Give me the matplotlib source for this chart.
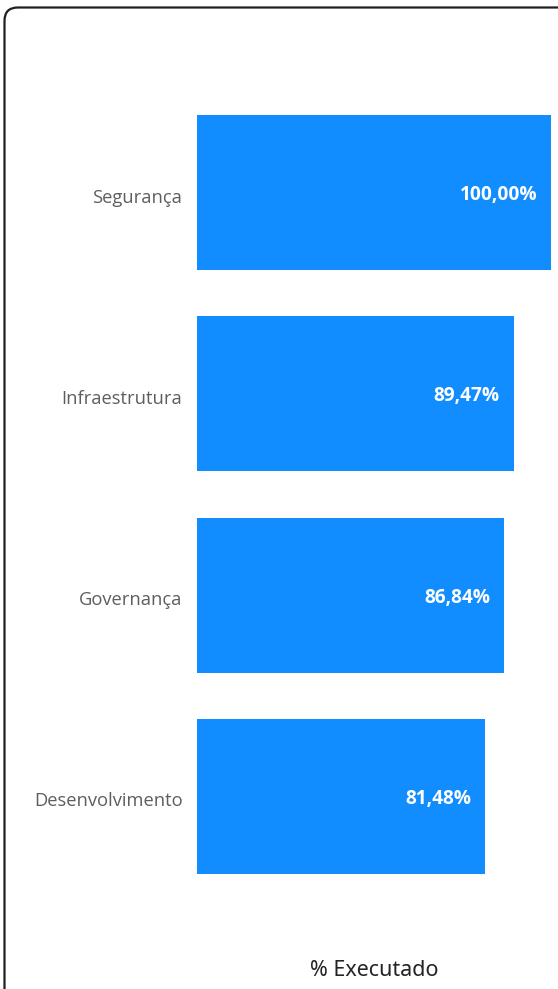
import matplotlib
matplotlib.use("Agg")
import matplotlib.pyplot as plt
import matplotlib.transforms as mtransforms
from matplotlib.patches import FancyBboxPatch

categories = ["Segurança", "Infraestrutura", "Governança", "Desenvolvimento"]
values = [100.00, 89.47, 86.84, 81.48]
value_labels = ["100,00%", "89,47%", "86,84%", "81,48%"]
title = "% Executado"

W, H = 558, 989
fig = plt.figure(figsize=(W / 100, H / 100), dpi=100)
fig.patch.set_facecolor("white")

# rounded frame (extends past the right and bottom edges)
frame = FancyBboxPatch((4.5 / W, -20 / H), (W + 40) / W, (H - 7.5 + 20) / H,
                       boxstyle="round,pad=0,rounding_size=0.024",
                       transform=fig.transFigure, fill=False,
                       edgecolor="#1f1f1f", linewidth=1.6, mutation_aspect=W / H)
fig.patches.append(frame)

ax = fig.add_axes([197 / W, 1 - 897 / H, (551 - 197) / W, (897 - 92) / H])
ypos = list(range(len(categories)))
ax.barh(ypos, values, height=0.77, color="#118DFF")
ax.set_xlim(0, 100)
ax.set_ylim(3.5, -0.5)
ax.set_yticks(ypos)
ax.set_yticklabels(categories, fontsize=13.2, color="#605E5C", family="Open Sans")
ax.tick_params(axis="y", length=0, pad=10.5)
shift = mtransforms.ScaledTranslation(0, -3 / 100, fig.dpi_scale_trans)
for t in ax.get_yticklabels():
    t.set_transform(t.get_transform() + shift)
ax.set_xticks([])
for s in ax.spines.values():
    s.set_visible(False)
ax.set_facecolor("none")

for y, v, lab in zip(ypos, values, value_labels):
    ax.annotate(lab, xy=(v, y), xytext=(-10, -1.8), textcoords="offset points",
                ha="right", va="center", color="white", fontsize=13.8,
                fontweight="bold", family="Open Sans")

fig.text(374 / W, 1 - 970 / H, title, ha="center", va="center",
         fontsize=15.5, color="#252423", family="Noto Sans")

fig.savefig("out.png", dpi=100)
